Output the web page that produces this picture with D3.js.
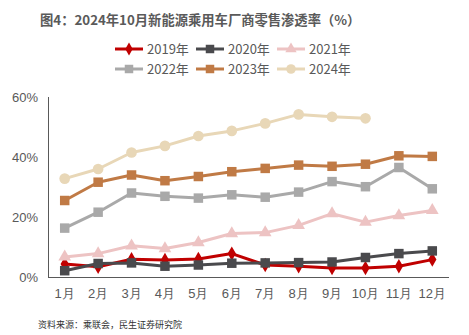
<!DOCTYPE html>
<html><head><meta charset="utf-8">
<script src="https://cdn.jsdelivr.net/npm/d3@7"></script>
<style>body{margin:0;background:#fff;}svg{display:block;font-family:"Noto Sans CJK SC","Microsoft YaHei",sans-serif;}</style>
</head><body>
<svg id="c" width="469" height="335"></svg>
<script>
const months = ["1月","2月","3月","4月","5月","6月","7月","8月","9月","10月","11月","12月"];
const yTicks = [0,20,40,60];
const s2019 = [4.3,3.4,5.9,5.7,6.0,7.8,4.0,3.6,3.0,3.0,3.6,5.8];
const s2020 = [2.1,4.5,4.7,3.6,4.0,4.6,4.7,4.8,5.0,6.5,7.8,8.7];
const s2021 = [6.7,7.8,10.4,9.5,11.5,14.5,14.8,17.2,21.1,18.3,20.5,22.2];
const s2022 = [16.3,21.6,28.0,26.9,26.3,27.4,26.6,28.3,31.8,30.1,36.5,29.4];
const s2023 = [25.5,31.6,34.0,32.1,33.5,35.1,36.2,37.3,36.9,37.6,40.4,40.2];
const s2024 = [32.8,36.0,41.5,43.7,47.0,48.7,51.2,54.2,53.4,52.9];
const seriesNames = ["2019年","2020年","2021年","2022年","2023年","2024年"];

const series = [
  {name:seriesNames[0], values:s2019, color:"#C00000", sym:d3.symbolDiamond, size:60},
  {name:seriesNames[1], values:s2020, color:"#4A4A4D", sym:d3.symbolSquare, size:90},
  {name:seriesNames[2], values:s2021, color:"#EDC3C3", sym:d3.symbolTriangle, size:70},
  {name:seriesNames[3], values:s2022, color:"#A9A9A9", sym:d3.symbolSquare, size:90},
  {name:seriesNames[4], values:s2023, color:"#C07A45", sym:d3.symbolSquare, size:90},
  {name:seriesNames[5], values:s2024, color:"#E8D7B7", sym:d3.symbolCircle, size:90}
];

const svg = d3.select("#c");
const textColor = "#595959";

svg.append("text").attr("x",40).attr("y",25)
  .attr("font-size",13.3).attr("font-weight","bold").attr("fill","#5a5a5a")
  .text("图4：2024年10月新能源乘用车厂商零售渗透率（%）");

const x = d3.scaleBand().domain(months).range([48,449]);
const y = d3.scaleLinear().domain([0,60]).range([277,97]);

const xAxis = svg.append("g").attr("transform","translate(0,277)")
  .call(d3.axisBottom(x).tickSize(0).tickPadding(12));
xAxis.select(".domain").attr("stroke",textColor).attr("d","M48,0.5H449");
xAxis.selectAll("text").attr("font-size",13).attr("fill",textColor).attr("font-family","inherit");

const yAxis = svg.append("g").attr("transform","translate(48,0)")
  .call(d3.axisLeft(y).tickValues(yTicks).tickSize(0).tickPadding(10).tickFormat(d=>d+"%"));
yAxis.select(".domain").attr("stroke",textColor).attr("d","M0.5,97V277");
yAxis.selectAll("text").attr("font-size",13).attr("fill",textColor).attr("font-family","inherit");

const line = d3.line().x((d,i)=>x(months[i])+x.bandwidth()/2).y(d=>y(d));

series.forEach(s=>{
  const g = svg.append("g");
  g.append("path").datum(s.values).attr("d",line).attr("fill","none")
    .attr("stroke",s.color).attr("stroke-width",3).attr("stroke-linejoin","round");
  g.selectAll("path.m").data(s.values).join("path").attr("class","m")
    .attr("transform",(d,i)=>`translate(${x(months[i])+x.bandwidth()/2},${y(d)})`)
    .attr("d",d3.symbol().type(s.sym).size(s.size)).attr("fill",s.color);
});

// legend
series.forEach((s,i)=>{
  const col = i%3, row = Math.floor(i/3);
  const lx = 115 + col*81, ly = 49 + row*20;
  const g = svg.append("g");
  g.append("line").attr("x1",lx).attr("x2",lx+28).attr("y1",ly).attr("y2",ly)
    .attr("stroke",s.color).attr("stroke-width",3);
  g.append("path").attr("transform",`translate(${lx+14},${ly})`)
    .attr("d",d3.symbol().type(s.sym).size(s.size*0.8)).attr("fill",s.color);
  g.append("text").attr("x",lx+32).attr("y",ly+4.5).attr("font-size",13)
    .attr("fill",textColor).text(s.name);
});

svg.append("text").attr("x",38).attr("y",328).attr("font-size",9).attr("fill","#333")
  .text("资料来源：乘联会，民生证券研究院");
</script>
</body></html>
